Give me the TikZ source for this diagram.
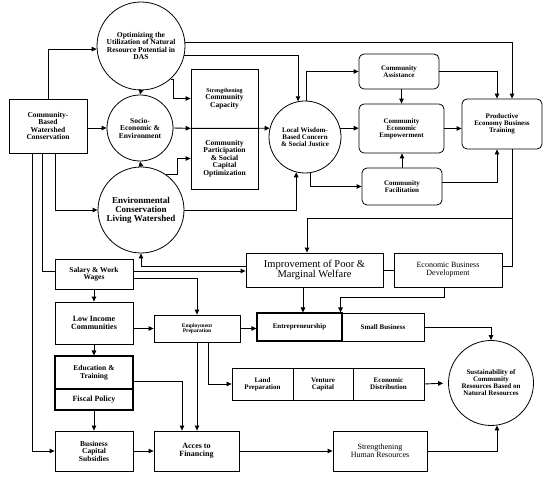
\documentclass[tikz,border=0pt]{standalone}
\usepackage{fontspec}
\setmainfont{Liberation Serif}
\usetikzlibrary{arrows.meta,calc}
\newcommand{\fs}[1]{\fontsize{#1}{#1}\selectfont}
\begin{document}
\begin{tikzpicture}[x=1pt,y=-1pt,
  box/.style={draw,line width=0.8pt,fill=white,align=center,inner sep=1pt,font=\fs{7.5}\bfseries\linespread{1.15}},
  rbox/.style={box,rounded corners=5pt},
  thickbox/.style={box,line width=1.1pt},
  circ/.style={draw,circle,line width=0.8pt,fill=white,align=center,inner sep=0pt,font=\fs{7.5}\bfseries\linespread{1.15}},
  conn/.style={line width=0.9pt},
  arr/.style={conn,-{Triangle[length=5pt,width=4.5pt]}}]
\useasboundingbox (0,0) rectangle (550,481);
% nodes
\node[box,minimum width=78pt,minimum height=54pt] (cbwc) at (48,126) {Community-\\Based\\Watershed\\Conservation};
\node[circ,minimum size=88pt] (opt) at (141,46) {Optimizing the\\Utilization of Natural\\Resource Potential in\\DAS};
\node[circ,minimum size=66pt] (socio) at (140,128) {Socio-\\Economic \&\\Environment};
\node[circ,minimum size=86pt,font=\fs{9}\bfseries\linespread{1.1}] (env) at (141,210) {Environmental\\Conservation\\Living Watershed};
\node[box,minimum width=67pt,minimum height=59pt] (strength) at (224.5,98.5) {{\fs{6}Strengthening}\\Community\\Capacity};
\node[box,minimum width=67pt,minimum height=61pt] (partic) at (224.5,158.5) {Community\\Participation\\\& Social\\Capital\\Optimization};
\node[circ,minimum size=72pt,font=\fs{7}\bfseries\linespread{1.15}] (lw) at (305,137) {Local Wisdom-\\Based Concern\\\& Social Justice};
\node[rbox,minimum width=80pt,minimum height=35pt,font=\fs{7}\bfseries\linespread{1.15}] (ca) at (399,71.5) {Community\\Assistance};
\node[rbox,minimum width=85pt,minimum height=49pt,font=\fs{7}\bfseries\linespread{1.3}] (cee) at (401.5,128.5) {Community\\Economic\\Empowerment};
\node[rbox,minimum width=80pt,minimum height=37pt,font=\fs{7}\bfseries\linespread{1.15}] (cf) at (402,186.5) {Community\\Facilitation};
\node[rbox,minimum width=80pt,minimum height=50pt,font=\fs{7}\bfseries\linespread{1.15}] (pebt) at (502,124) {Productive\\Economy Business\\Training};
\node[box,minimum width=137pt,minimum height=34pt,font=\fs{10.5}\linespread{1.1}] (imp) at (314.5,270) {Improvement of Poor \&\\Marginal Welfare};
\node[box,minimum width=108pt,minimum height=34pt,font=\fs{8}\linespread{1.15}] (ebd) at (448,270) {Economic Business\\Development};
\node[thickbox,minimum width=85pt,minimum height=28pt,font=\fs{7}\bfseries] (ent) at (299.5,327) {Entrepreneurship};
\node[box,minimum width=82pt,minimum height=28pt,font=\fs{7}\bfseries] (sb) at (383,327) {Small Business};
\node[circ,minimum size=85pt,font=\fs{7}\bfseries\linespread{1.15}] (sust) at (491,383) {Sustainability of\\Community\\Resources Based on\\Natural Resources};
\node[box,minimum width=61pt,minimum height=32pt,font=\fs{7}\bfseries\linespread{1.15}] (lp) at (262.5,384) {Land\\Preparation};
\node[box,minimum width=60pt,minimum height=32pt,font=\fs{7}\bfseries\linespread{1.15}] (vc) at (323,384) {Venture\\Capital};
\node[box,minimum width=71pt,minimum height=32pt,font=\fs{7}\bfseries\linespread{1.15}] (ed) at (388.5,384) {Economic\\Distribution};
\node[box,minimum width=94pt,minimum height=40pt,font=\fs{8}\linespread{1.15}] (shr) at (380,451) {Strengthening\\Human Resources};
\node[box,minimum width=85pt,minimum height=40pt,font=\fs{8}\bfseries\linespread{1.4}] (acf) at (196.5,451) {Acces to\\Financing};
\node[box,minimum width=78pt,minimum height=40pt] (bcs) at (94,451) {Business\\Capital\\Subsidies};
\node[thickbox,minimum width=78pt,minimum height=21pt,font=\fs{8}\bfseries] (fp) at (94,399.5) {Fiscal Policy};
\node[thickbox,minimum width=78pt,minimum height=33pt] (et) at (94,372.5) {Education \&\\Training};
\node[box,minimum width=78pt,minimum height=42pt,font=\fs{8}\bfseries\linespread{1.3}] (lic) at (94,323) {Low Income\\Communities};
\node[box,minimum width=78pt,minimum height=30pt] (sal) at (94,274) {Salary \& Work\\Wages};
\node[box,minimum width=86pt,minimum height=27pt,font=\fs{5.5}\bfseries\linespread{1.2}] (emp) at (197,328.5) {Employment\\Preparation};
\coordinate (j1) at (512,218);
% connectors
\draw[arr] (cbwc.north) |- (opt.184);
\draw[arr] (socio.west -| cbwc.east) -- (socio.west);
\draw[arr] ([xshift=7pt]cbwc.south) |- (env.west);
\draw[arr] ([xshift=-16pt]cbwc.south) |- (bcs.west);
\draw[conn] ([xshift=-6pt]cbwc.south) |- ([yshift=3pt]sal.west);
\draw[arr] ([yshift=3pt]sal.east) -- ([yshift=3pt]sal.east -| imp.west);
\draw[arr] ([yshift=4pt]imp.west) -| (env.south);
\draw[arr] ([yshift=-4pt]sal.east) -| (emp.north);
\draw[arr] (sal.south) -- (lic.north);
\draw[arr] (lic.south) -- (et.north);
\draw[arr] (emp.west -| lic.east) -- (emp.west);
\draw[arr] (emp.east) -- (emp.east -| ent.west);
\draw[arr] (emp.south) -- (emp.south |- acf.north);
\draw[arr] ([xshift=11pt]emp.south) |- (lp.west);
\draw[arr] ([yshift=-8.5pt]et.east) -| ([xshift=-14.5pt]acf.north);
\draw[arr] (fp.south) -- (bcs.north);
\draw[arr] (bcs.east) -- (acf.west);
\draw[arr] (acf.east) -- (shr.west);
\draw[arr] (shr.east) -| (sust.-82);
\draw[arr,shorten >=5pt] (ed.east) -- (sust.west);
\draw[arr] (sb.east) -| (sust.north);
\draw[arr] ([xshift=-11.5pt]imp.south) -- ([xshift=-11.5pt]imp.south |- ent.north);
\draw[arr] ([xshift=-4pt]ebd.south) |- ([xshift=-2pt,yshift=15pt]ent.north east) -- ([xshift=-2pt]ent.north east);
\draw[conn] (imp.east) -- (ebd.west);
\draw[conn] ([xshift=10pt]pebt.south) |- ([yshift=4pt]ebd.east);
\draw[arr] (j1) -| ([xshift=-7.5pt]imp.north);
\draw[arr] (opt.4) -| ([xshift=10pt]pebt.north);
\draw[arr] (opt.-12) -| (lw.101);
\draw[arr] (opt.south) -- (socio.north);
\draw[arr] (opt.-48) -- ++(3,0) |- (strength.west);
\draw[arr] (socio.east) -- (strength.south west);
\draw[arr] (strength.south west) -- (lw.166);
\draw[arr] (env.north) -- (socio.south);
\draw[arr] (env.55) -- ++(12,0) |- (partic.west);
\draw[arr] (env.east) -| (lw.-104);
\draw[arr] (lw.87) |- (ca.west);
\draw[arr] (lw.14) -- (lw.14 -| cee.west);
\draw[arr] (lw.-82) |- (cf.west);
\draw[arr] (cee.north |- ca.south) -- (cee.north);
\draw[arr] (cf.north) -- (cf.north |- cee.south);
\draw[arr] (cee.east) -- (cee.east -| pebt.west);
\draw[arr] (ca.east) -| ([xshift=-5pt]pebt.north);
\draw[arr] ([yshift=4.5pt]cf.east) -| ([xshift=-5pt]pebt.south);
\end{tikzpicture}
\end{document}
